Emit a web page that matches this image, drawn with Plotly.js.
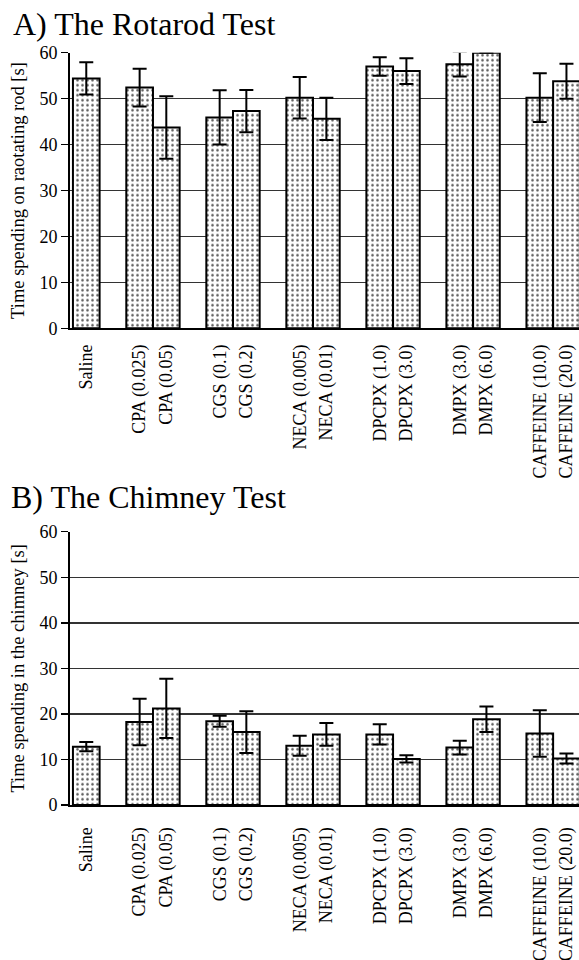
<!DOCTYPE html>
<html>
<head>
<meta charset="utf-8">
<script src="https://cdn.plot.ly/plotly-3.0.1.min.js"></script>
<style>
html,body{margin:0;padding:0;background:#fff;}
#chart{width:579px;height:960px;}
</style>
</head>
<body>
<div id="chart"></div>
<script>
const categories = ["Saline","CPA (0.025)","CPA (0.05)","CGS (0.1)","CGS (0.2)","NECA (0.005)","NECA (0.01)","DPCPX (1.0)","DPCPX (3.0)","DMPX (3.0)","DMPX (6.0)","CAFFEINE (10.0)","CAFFEINE (20.0)"];
const groupSizes = [1,2,2,2,2,2,2];
const rotarodMean = [54.4,52.4,43.7,45.9,47.3,50.2,45.6,57.0,56.0,57.5,60.0,50.2,53.8];
const rotarodErr  = [3.5,4.1,6.8,5.9,4.6,4.5,4.6,2.0,2.8,2.7,0,5.3,3.8];
const chimneyMean = [12.8,18.2,21.2,18.4,16.0,13.0,15.5,15.5,10.1,12.6,18.8,15.7,10.2];
const chimneyErr  = [1.0,5.1,6.5,1.2,4.6,2.2,2.5,2.2,0.8,1.5,2.8,5.1,1.1];
const titleA = "A) The Rotarod Test";
const titleB = "B) The Chimney Test";
const yTitleA = "Time spending on raotating rod [s]";
const yTitleB = "Time spending in the chimney [s]";

// build slot sequence with an empty slot between drug groups
const slots = [], slotIdx = [];
let k = 0;
groupSizes.forEach((n, g) => {
  if (g > 0) { slots.push("gap" + g); slotIdx.push(-1); }
  for (let i = 0; i < n; i++) { slots.push(categories[k]); slotIdx.push(k); k++; }
});
const pick = (arr) => slotIdx.map(i => i < 0 ? null : arr[i]);

const FONT = "Liberation Serif, Times New Roman, serif";
function barTrace(mean, err, xa, ya) {
  return {
    type: "bar", x: slots, y: pick(mean), xaxis: xa, yaxis: ya,
    marker: {
      color: "white",
      line: {color: "black", width: 2},
      pattern: {shape: ".", fgcolor: "#555", bgcolor: "white", size: 5, solidity: 0.2}
    },
    error_y: {type: "data", array: pick(err), visible: true, color: "black", thickness: 2, width: 7},
    hoverinfo: "skip"
  };
}

const xCommon = {
  type: "category", categoryorder: "array", categoryarray: slots,
  range: [-0.61, 18.47], tickmode: "array", tickvals: categories, ticktext: categories,
  tickangle: -90, tickfont: {family: FONT, size: 18, color: "black"},
  showline: true, linecolor: "black", linewidth: 2, ticks: "", showgrid: false, zeroline: false,
  fixedrange: true
};
const yCommon = {
  range: [0, 60], tick0: 0, dtick: 10, showgrid: true, gridcolor: "#333", gridwidth: 1.5,
  showline: true, linecolor: "black", linewidth: 2, ticks: "outside", ticklen: 7,
  tickcolor: "black", tickwidth: 1.5, tickfont: {family: FONT, size: 18, color: "black"},
  zeroline: false, fixedrange: true
};

const layout = {
  width: 579, height: 960,
  margin: {l: 70, r: 0, t: 0, b: 0},
  paper_bgcolor: "white", plot_bgcolor: "white",
  showlegend: false, bargap: 0,
  font: {family: FONT, color: "black"},
  xaxis: Object.assign({}, xCommon, {anchor: "y", domain: [0, 1], ticklabelstandoff: 7}),
  yaxis: Object.assign({}, yCommon, {anchor: "x", domain: [0.658, 0.9451],
    title: {text: yTitleA, font: {family: FONT, size: 18.5, color: "black"}, standoff: 10}}),
  xaxis2: Object.assign({}, xCommon, {anchor: "y2", domain: [0, 1], ticklabelstandoff: 13}),
  yaxis2: Object.assign({}, yCommon, {anchor: "x2", domain: [0.1615, 0.4461],
    title: {text: yTitleB, font: {family: FONT, size: 18.5, color: "black"}, standoff: 10}}),
  annotations: [
    {text: titleA, xref: "paper", yref: "paper", x: 0, xshift: -59, xanchor: "left",
     y: 1 - 24/960, yanchor: "middle", showarrow: false, font: {family: FONT, size: 32, color: "black"}},
    {text: titleB, xref: "paper", yref: "paper", x: 0, xshift: -61, xanchor: "left",
     y: 1 - 497/960, yanchor: "middle", showarrow: false, font: {family: FONT, size: 32, color: "black"}}
  ]
};

Plotly.newPlot("chart", [
  barTrace(rotarodMean, rotarodErr, "x", "y"),
  barTrace(chimneyMean, chimneyErr, "x2", "y2")
], layout, {staticPlot: true, displayModeBar: false});
</script>
</body>
</html>
